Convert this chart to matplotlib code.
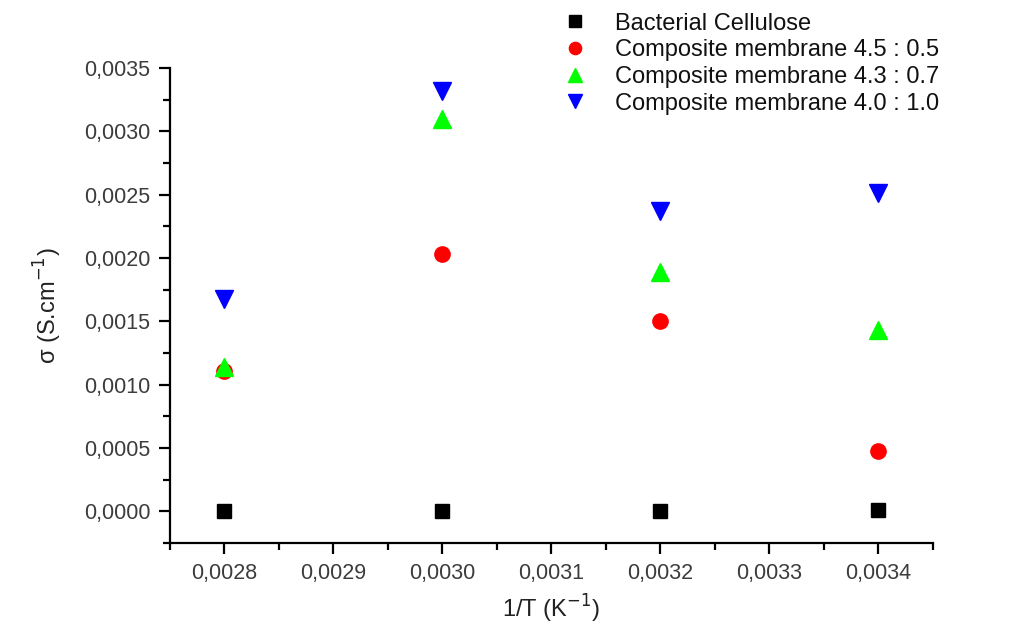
import matplotlib
matplotlib.use("Agg")
import matplotlib.pyplot as plt
from matplotlib.ticker import MultipleLocator, FuncFormatter

plt.rcParams['font.family'] = ['Liberation Sans', 'DejaVu Sans']

# 1/T values (K^-1)
inv_T = [0.0028, 0.0030, 0.0032, 0.0034]

# conductivity sigma (S/cm)
bacterial_cellulose = [0.0, 0.0, 0.000002, 0.00001]
comp_45_05 = [0.00111, 0.00203, 0.00150, 0.00048]
comp_43_07 = [0.00114, 0.00310, 0.00189, 0.00143]
comp_40_10 = [0.00168, 0.00332, 0.00237, 0.00251]

labels = ["Bacterial Cellulose",
          "Composite membrane 4.5 : 0.5",
          "Composite membrane 4.3 : 0.7",
          "Composite membrane 4.0 : 1.0"]

fig = plt.figure(figsize=(10.1, 6.3), dpi=100)
ax = fig.add_axes([0.168, 0.138, 0.7555, 0.754])

ax.plot(inv_T, bacterial_cellulose, marker="s", markersize=10, linestyle='None',
        color="black", label=labels[0])
ax.plot(inv_T, comp_45_05, marker="o", markersize=11, linestyle='None',
        color="#ff0000", label=labels[1])
ax.plot(inv_T, comp_43_07, marker="^", markersize=13, linestyle='None',
        color="#00ff00", label=labels[2])
ax.plot(inv_T, comp_40_10, marker="v", markersize=13, linestyle='None',
        color="#0000ff", label=labels[3])

ax.set_xlim(0.00275, 0.00345)
ax.set_ylim(-0.00025, 0.0035)

ax.xaxis.set_major_locator(MultipleLocator(0.0001))
ax.xaxis.set_minor_locator(MultipleLocator(0.00005))
ax.yaxis.set_major_locator(MultipleLocator(0.0005))
ax.yaxis.set_minor_locator(MultipleLocator(0.00025))
comma = FuncFormatter(lambda v, p: ("%.4f" % v).replace("-0.0000", "0.0000").replace(".", ","))
ax.xaxis.set_major_formatter(comma)
ax.yaxis.set_major_formatter(comma)

ax.spines['top'].set_visible(False)
ax.spines['right'].set_visible(False)
ax.spines['left'].set_linewidth(1.6)
ax.spines['bottom'].set_linewidth(1.6)

ax.tick_params(which='major', direction='out', length=8, width=1.6,
               labelsize=15.5, colors='black', labelcolor='#3c3c3c', pad=6)
ax.tick_params(which='minor', direction='out', length=5, width=1.6)

ax.set_xlabel("1/T (K$^{-1}$)", fontsize=17, color='#222222', labelpad=7)
ax.set_ylabel("σ (S.cm$^{-1}$)", fontsize=17, color='#222222', labelpad=14)

leg = ax.legend(loc='upper left', bbox_to_anchor=(0.548, 0.995), bbox_transform=fig.transFigure,
                frameon=False, fontsize=17, markerscale=0.8, handletextpad=1.2,
                labelspacing=0.2, handlelength=1.0, borderaxespad=0.0)
for t in leg.get_texts():
    t.set_color('#111111')

fig.savefig("out.png", dpi=100)
